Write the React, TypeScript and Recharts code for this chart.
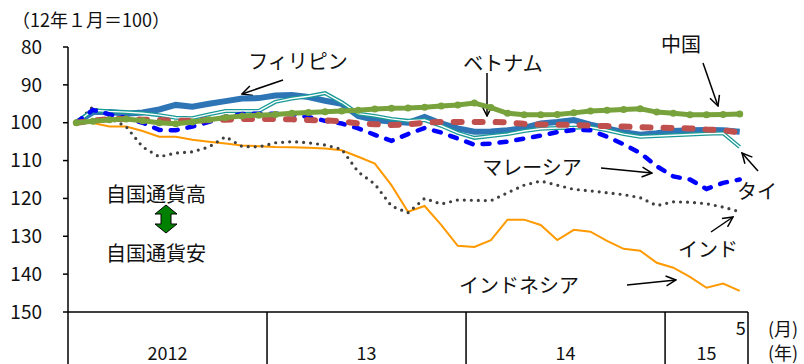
import React from 'react';
import { LineChart, Line, XAxis, YAxis } from 'recharts';

// Monthly index, Jan 2012 = 100 (higher value = weaker currency)
const MONTHS = [
  '2012/1', '2012/2', '2012/3', '2012/4', '2012/5', '2012/6', '2012/7', '2012/8', '2012/9', '2012/10', '2012/11', '2012/12',
  '2013/1', '2013/2', '2013/3', '2013/4', '2013/5', '2013/6', '2013/7', '2013/8', '2013/9', '2013/10', '2013/11', '2013/12',
  '2014/1', '2014/2', '2014/3', '2014/4', '2014/5', '2014/6', '2014/7', '2014/8', '2014/9', '2014/10', '2014/11', '2014/12',
  '2015/1', '2015/2', '2015/3', '2015/4', '2015/5',
];

const YEAR_LABELS = ['2012', '13', '14', '15'];
const YEAR_MONTHS = [12, 12, 12, 5];

const Y_TICKS = [80, 90, 100, 110, 120, 130, 140, 150];

const PHILIPPINES = [100, 97.2, 97.2, 97.6, 97.3, 96.5, 95.3, 95.8, 95, 94.3, 93.6, 93.5, 92.8, 92.7, 93.2, 94.2, 95, 98.2, 99.3, 99.7, 100, 98.5, 100.2, 101.5, 102.4, 102.3, 102, 101.4, 100.2, 99.8, 99.3, 100.5, 101.5, 102.5, 103.2, 102.8, 102.2, 102, 101.9, 102, 102.4];
const THAILAND = [100, 96.7, 97, 97.2, 97.5, 98, 98.7, 98.8, 97.8, 96.9, 96.9, 96.9, 94.5, 93.6, 93, 92.2, 94.6, 97.6, 98.2, 99, 99.5, 99.3, 100.8, 102.7, 104, 103.5, 103, 102.2, 101.6, 101.4, 101.3, 101.2, 102, 103, 103.7, 103.5, 103.3, 103.1, 102.9, 102.8, 106.4];
const MALAYSIA = [100, 96.6, 97.8, 98.8, 100, 101.9, 102, 101, 99.8, 98.4, 97.7, 97.6, 97.6, 97.7, 98.5, 99.5, 100.2, 101.5, 103.2, 104.8, 103, 101.4, 102.6, 104.2, 105.8, 105.5, 105, 104.2, 103.4, 102.5, 101.9, 102, 103.7, 105.7, 108, 111.5, 114.2, 115, 117.5, 115.9, 115];
const VIETNAM = [100, 99.5, 99, 99, 99.2, 99.3, 99.5, 99.5, 99.3, 99.2, 99, 99, 99, 99.1, 99.3, 99.4, 99.6, 100.2, 100.4, 100.6, 100.4, 100, 99.8, 99.8, 99.8, 99.8, 99.9, 100.3, 100.5, 100.5, 100.6, 100.8, 100.9, 101, 101.2, 101.3, 101.4, 101.5, 101.8, 102, 102.6];
const CHINA = [100, 99.6, 99.2, 99, 99.5, 100, 100.3, 99.8, 99.2, 98.6, 98.2, 98, 97.8, 97.5, 97.3, 97.1, 96.9, 96.7, 96.4, 96.2, 96.1, 95.9, 95.6, 95.3, 94.8, 96, 97.5, 97.9, 97.9, 97.8, 97.4, 96.9, 96.7, 96.5, 96.3, 97.2, 97.5, 97.9, 97.9, 97.8, 97.7];
const INDIA = [100, 95.8, 98.8, 101, 106.4, 109, 108, 107.7, 106.4, 103.7, 106.3, 106.4, 105.3, 105, 105.3, 105.9, 107, 113, 116.2, 122, 123.8, 120, 121.5, 120.4, 120.5, 120.6, 118.5, 116.5, 115.4, 116.5, 117.6, 118, 118.5, 119, 119.8, 121.9, 120.9, 121, 121.4, 122.3, 123.5];
const INDONESIA = [100, 100.1, 101, 101, 102.2, 103.7, 103.7, 104.5, 105, 105.5, 106, 106.2, 106.4, 106.5, 106.6, 106.8, 107.3, 109, 110.8, 116.5, 123.5, 122, 127, 132.5, 132.8, 131, 125.6, 125.6, 127, 131, 128.3, 128.8, 131.2, 133.3, 133.8, 137, 138.3, 140.7, 143.6, 142.5, 144.4];

const data = MONTHS.map((m, i) => ({
  m,
  ph: PHILIPPINES[i],
  th: THAILAND[i],
  my: MALAYSIA[i],
  vn: VIETNAM[i],
  cn: CHINA[i],
  in: INDIA[i],
  id: INDONESIA[i],
}));

// layout
const W = 804;
const H = 364;
const M = { top: 47, right: 56, bottom: 0, left: 0 };
const Y_AXIS_W = 68;
const X_AXIS_H = 52;
const PLOT_W = W - M.left - M.right - Y_AXIS_W;
const BAND = PLOT_W / MONTHS.length;
const PAD = BAND / 2;

const FONT = '"Noto Sans CJK JP", "Noto Sans", sans-serif';

const YEAR_START: number[] = YEAR_MONTHS.map((_, k) =>
  YEAR_MONTHS.slice(0, k).reduce((a, b) => a + b, 0)
);

const MonthTick = (props: any) => {
  const { x, y, index } = props;
  const k = YEAR_START.indexOf(index);
  const parts: React.ReactNode[] = [];
  if (k >= 0) {
    const left = x - PAD;
    parts.push(
      <line key="sep" x1={left} y1={y} x2={left} y2={y + X_AXIS_H} stroke="#000" strokeWidth={1.5} />
    );
    parts.push(
      <text key="yr" x={left + (YEAR_MONTHS[k] * BAND) / 2} y={y + 40} textAnchor="middle"
        dominantBaseline="central" fontSize={18} fontFamily={FONT} fill="#111">
        {YEAR_LABELS[k]}
      </text>
    );
  }
  if (index === MONTHS.length - 1) {
    const right = x + PAD;
    const monthLabel = MONTHS[index].split('/')[1];
    parts.push(
      <line key="end" x1={right} y1={y} x2={right} y2={y + X_AXIS_H} stroke="#000" strokeWidth={1.5} />
    );
    parts.push(
      <text key="mo" x={x + 1} y={y + 15} textAnchor="middle" dominantBaseline="central"
        fontSize={18} fontFamily={FONT} fill="#111">
        {monthLabel}
      </text>
    );
    parts.push(
      <text key="mu" x={right + 35} y={y + 16} textAnchor="middle" dominantBaseline="central"
        fontSize={18} fontFamily={FONT} fill="#111">
        (月)
      </text>
    );
    parts.push(
      <text key="yu" x={right + 35} y={y + 40} textAnchor="middle" dominantBaseline="central"
        fontSize={18} fontFamily={FONT} fill="#111">
        (年)
      </text>
    );
  }
  return <g>{parts}</g>;
};

const labelStyle = { fontSize: 20, fontFamily: FONT, fill: '#111' };

const NOTES = [
  { text: 'フィリピン', x: 298, y: 60 },
  { text: 'ベトナム', x: 503, y: 62 },
  { text: '中国', x: 681, y: 43 },
  { text: 'マレーシア', x: 532, y: 166 },
  { text: 'タイ', x: 757, y: 190 },
  { text: 'インド', x: 708, y: 248 },
  { text: 'インドネシア', x: 519, y: 284 },
  { text: '自国通貨高', x: 156, y: 193 },
  { text: '自国通貨安', x: 156, y: 252 },
];

const ARROWS = [
  [283, 80, 242, 94],
  [487, 73, 487, 116],
  [703, 63, 718, 106],
  [601, 168, 652, 173],
  [758, 171, 742, 153],
  [711, 232, 733, 217],
  [627, 285, 676, 280],
];

export default function App() {
  return (
    <div style={{ position: 'absolute', left: 0, top: 0, width: W, height: H, background: '#fff' }}>
      <LineChart width={W} height={H} data={data} margin={M}>
        <defs>
          <marker id="arrowHead" viewBox="0 0 12 12" refX="11" refY="6" markerWidth="12" markerHeight="12"
            orient="auto" markerUnits="userSpaceOnUse">
            <path d="M1,1 L11,6 L1,11" fill="none" stroke="#000" strokeWidth={1.5} />
          </marker>
        </defs>
        <XAxis
          dataKey="m"
          interval={0}
          tickLine={false}
          tickSize={0}
          tickMargin={0}
          height={X_AXIS_H}
          padding={{ left: PAD, right: PAD }}
          axisLine={{ stroke: '#000', strokeWidth: 1.5 }}
          tick={<MonthTick />}
        />
        <YAxis
          reversed
          domain={[80, 150]}
          ticks={Y_TICKS}
          interval={0}
          width={Y_AXIS_W}
          tickSize={5}
          tickMargin={21}
          axisLine={{ stroke: '#000', strokeWidth: 1.5 }}
          tickLine={{ stroke: '#000', strokeWidth: 1.5 }}
          tick={{ fill: '#111', fontSize: 19, fontFamily: FONT }}
        />
        <Line dataKey="id" stroke="#FF9900" strokeWidth={2} dot={false} isAnimationActive={false} />
        <Line dataKey="in" stroke="#404040" strokeWidth={3.2} strokeDasharray="0 7" strokeLinecap="round"
          dot={false} isAnimationActive={false} />
        <Line dataKey="ph" stroke="#2E75B6" strokeWidth={6} dot={false} isAnimationActive={false} />
        <Line dataKey="th" stroke="#1A9A96" strokeWidth={4} dot={false} isAnimationActive={false} />
        <Line dataKey="th" stroke="#fff" strokeWidth={1.4} dot={false} isAnimationActive={false} />
        <Line dataKey="my" stroke="#0000FF" strokeWidth={4.5} strokeDasharray="7 10" strokeLinecap="round"
          dot={false} isAnimationActive={false} />
        <Line dataKey="vn" stroke="#C0504D" strokeWidth={6} strokeDasharray="8 13" strokeLinecap="round"
          dot={false} isAnimationActive={false} />
        <Line dataKey="cn" stroke="#77A23C" strokeWidth={5} strokeLinecap="round"
          dot={{ r: 3.5, fill: '#77A23C', stroke: 'none' }} isAnimationActive={false} />

        <g>
          <text x={12} y={19} dominantBaseline="central" fontSize={18} fontFamily={FONT} fill="#111">
            （12年１月＝100）
          </text>
          {NOTES.map((n) => (
            <text key={n.text} x={n.x} y={n.y} textAnchor="middle" dominantBaseline="central" {...labelStyle}>
              {n.text}
            </text>
          ))}
          {ARROWS.map((a, i) => (
            <line key={i} x1={a[0]} y1={a[1]} x2={a[2]} y2={a[3]} stroke="#000" strokeWidth={1.5}
              markerEnd="url(#arrowHead)" />
          ))}
          <polygon
            points="166,205 177,214 171,214 171,224 177,224 166,233 155,224 161,224 161,214 155,214"
            fill="#008000" stroke="#000" strokeWidth={1}
          />
        </g>
      </LineChart>
    </div>
  );
}
